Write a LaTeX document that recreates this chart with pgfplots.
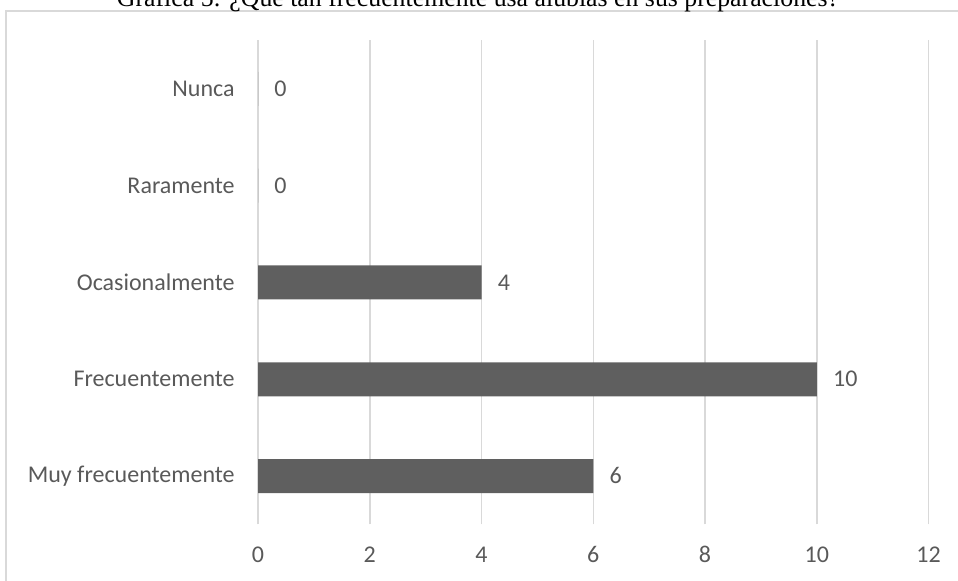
\documentclass[border=0pt]{standalone}
\usepackage{fontspec}
\setmainfont{Carlito}
\newfontfamily\titlefont{Liberation Serif}
\usepackage{pgfplots}
\pgfplotsset{compat=1.18}
\definecolor{txt}{HTML}{595959}
\definecolor{barc}{HTML}{5F5F5F}
\definecolor{gridc}{HTML}{D9D9D9}
\begin{document}
\begin{tikzpicture}
\useasboundingbox (0pt,0pt) rectangle (479pt,290.5pt);
\clip (0pt,0pt) rectangle (479pt,290.5pt);
\draw[gridc, line width=1pt] (2.75pt,285pt) rectangle (495pt,-10pt);
\node[font=\titlefont\fontsize{12.9}{15}\selectfont, anchor=base, inner sep=0pt] at (239pt,287pt) {Gráfica 5: ¿Qué tan frecuentemente usa alubias en sus preparaciones?};
\begin{axis}[at={(129pt,28.25pt)}, anchor=south west, scale only axis,
  width=335.25pt, height=242pt,
  xmin=0, xmax=12, ymin=-0.5, ymax=4.5,
  xtick={0,2,...,12}, ytick={0,...,4},
  yticklabels={Muy frecuentemente,Frecuentemente,Ocasionalmente,Raramente,Nunca},
  xbar, bar width=17pt,
  axis line style={draw=none}, major tick length=0pt,
  xmajorgrids, grid style={gridc, line width=0.75pt},
  tick label style={font=\fontsize{12}{14}\selectfont, text=txt},
  y tick label style={inner sep=0pt, xshift=-11.5pt},
  x tick label style={inner sep=0pt, anchor=base, yshift=-19.25pt},
  nodes near coords,
  nodes near coords style={font=\fontsize{12}{14}\selectfont, text=txt, anchor=west, inner sep=0pt, xshift=8pt, text height=7.6pt, text depth=0pt},
  /pgf/number format/assume math mode=true,
  clip=false]
\addplot[fill=barc, draw=none] coordinates {(6,0) (10,1) (4,2) (0,3) (0,4)};
\end{axis}
\end{tikzpicture}
\end{document}
